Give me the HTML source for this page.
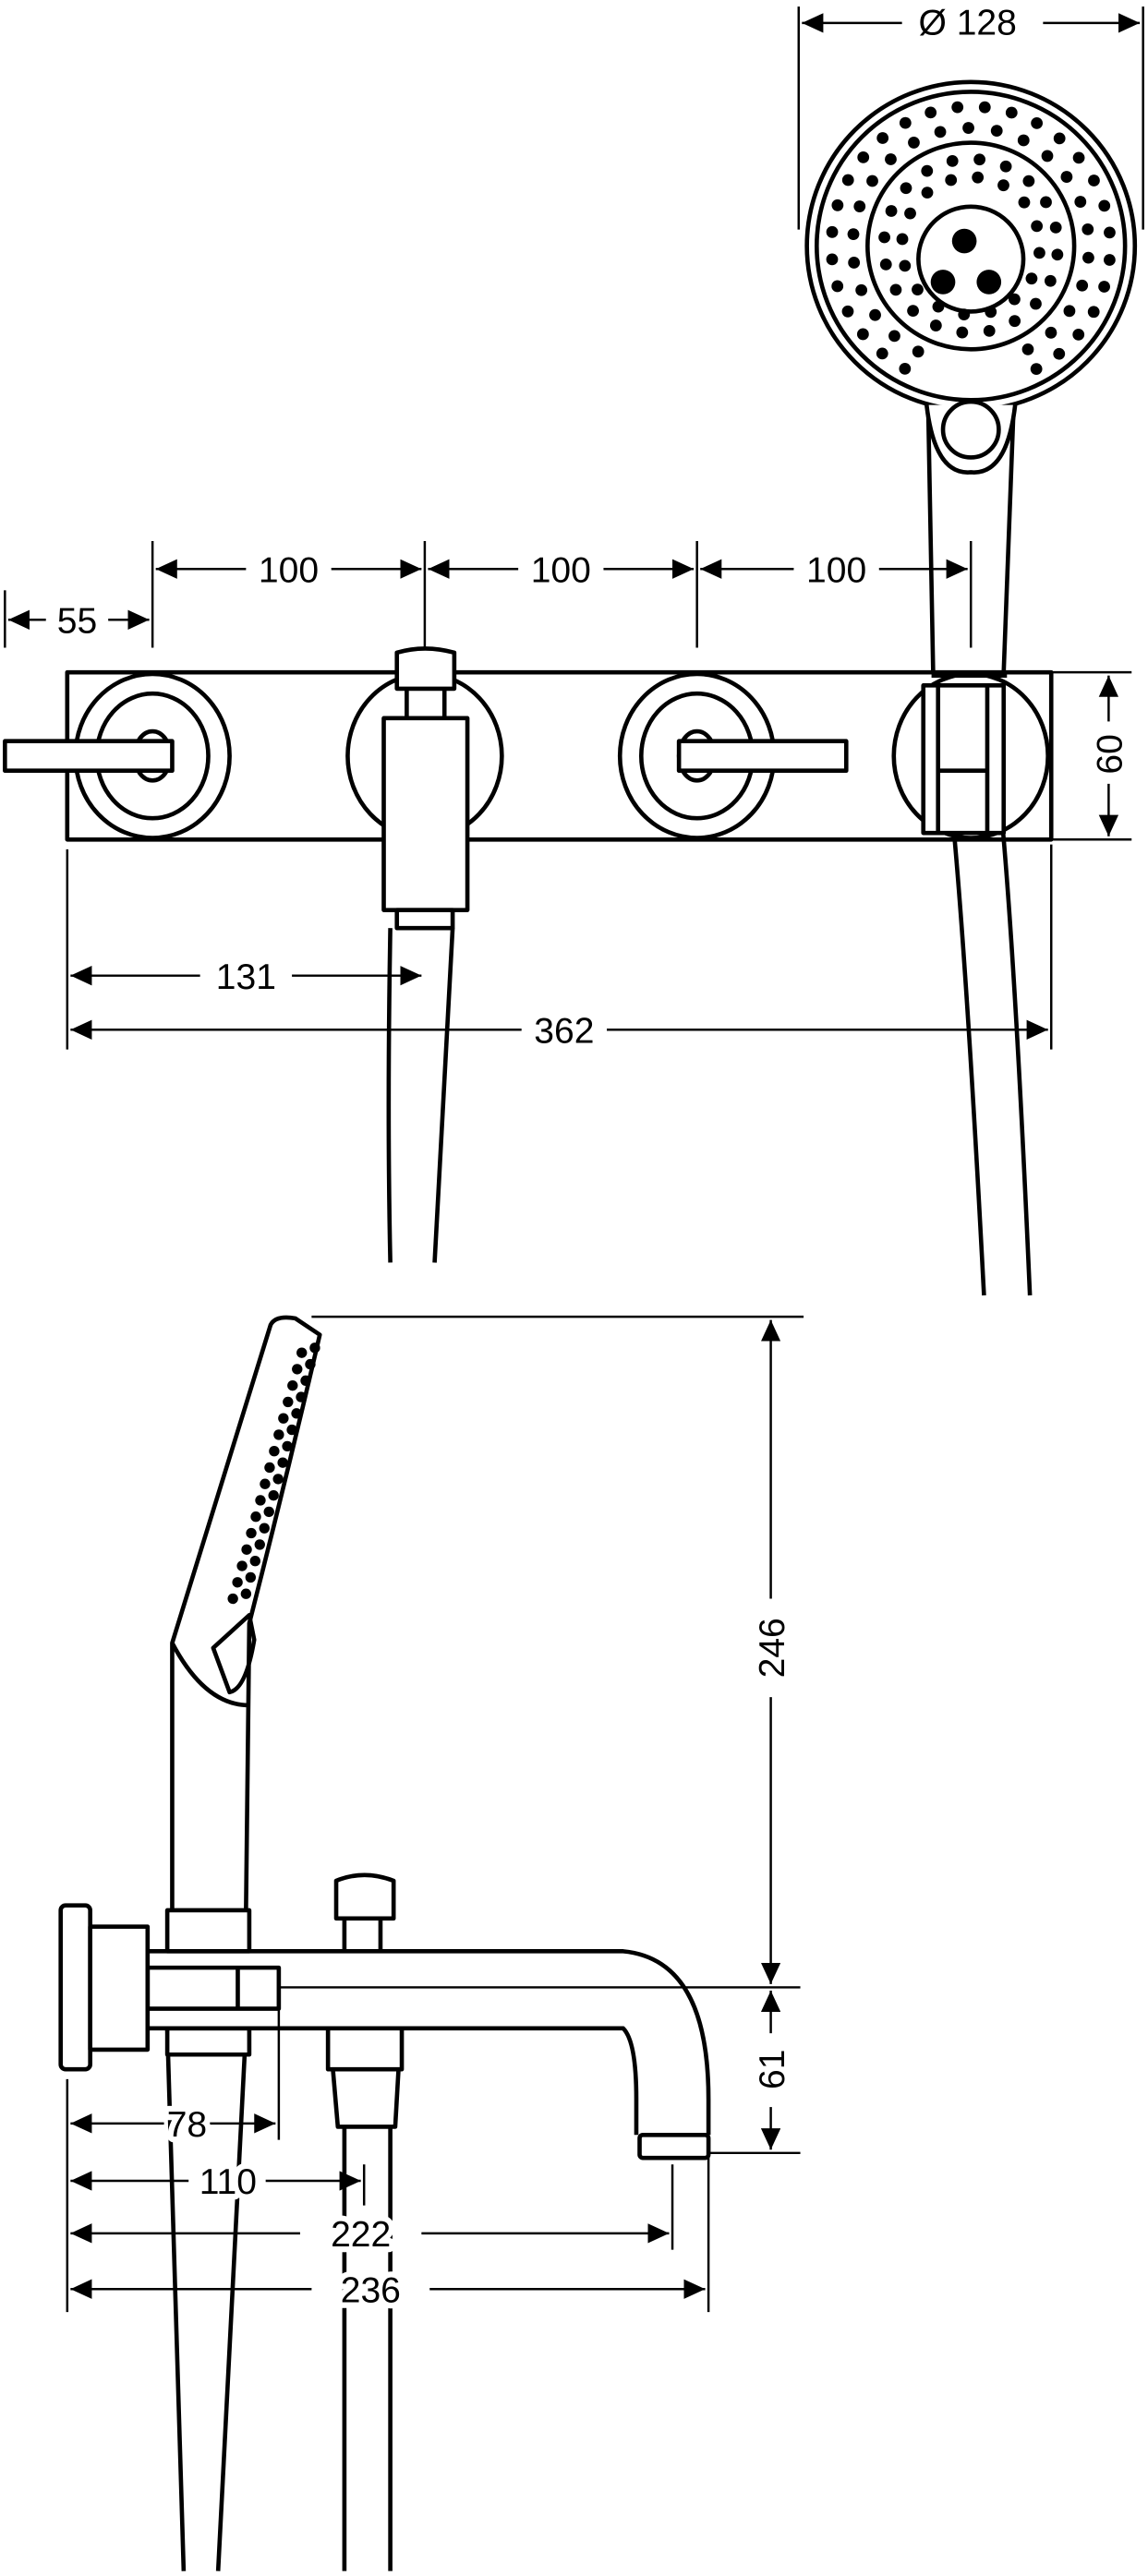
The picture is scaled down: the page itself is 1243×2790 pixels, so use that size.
<!DOCTYPE html>
<html><head><meta charset="utf-8"><style>
html,body{margin:0;padding:0;background:#fff}
svg{display:block}
text{font-family:"Liberation Sans Narrow","Liberation Sans",sans-serif;font-size:22px;fill:#000;stroke:#fff;stroke-width:7px;paint-order:stroke;stroke-linejoin:round}
</style></head><body>
<svg id="s" width="1243" height="2790" viewBox="0 0 700 1571" preserveAspectRatio="none" xmlns="http://www.w3.org/2000/svg">
<defs>
<marker id="a" markerUnits="userSpaceOnUse" markerWidth="14" markerHeight="12" refX="13" refY="6" orient="auto-start-reverse"><path d="M0,0 L13,6 L0,12 Z" fill="#000"/></marker>
</defs>
<g fill="none" stroke="#000" stroke-width="1.4">
<line x1="487" y1="4" x2="487" y2="140"/><line x1="697" y1="4" x2="697" y2="140"/>
<line x1="489" y1="14" x2="550" y2="14" marker-start="url(#a)"/><line x1="636" y1="14" x2="695" y2="14" marker-end="url(#a)"/>
<line x1="93" y1="330" x2="93" y2="395"/><line x1="259" y1="330" x2="259" y2="395"/><line x1="425" y1="330" x2="425" y2="395"/><line x1="592" y1="330" x2="592" y2="395"/>
<line x1="95" y1="347" x2="150" y2="347" marker-start="url(#a)"/><line x1="202" y1="347" x2="257" y2="347" marker-end="url(#a)"/>
<line x1="261" y1="347" x2="316" y2="347" marker-start="url(#a)"/><line x1="368" y1="347" x2="423" y2="347" marker-end="url(#a)"/>
<line x1="427" y1="347" x2="484" y2="347" marker-start="url(#a)"/><line x1="536" y1="347" x2="590" y2="347" marker-end="url(#a)"/>
<line x1="3" y1="360" x2="3" y2="395"/>
<line x1="5" y1="378" x2="28" y2="378" marker-start="url(#a)"/><line x1="66" y1="378" x2="91" y2="378" marker-end="url(#a)"/>
<line x1="641" y1="410" x2="690" y2="410"/><line x1="641" y1="512" x2="690" y2="512"/>
<line x1="676" y1="412" x2="676" y2="440" marker-start="url(#a)"/><line x1="676" y1="478" x2="676" y2="510" marker-end="url(#a)"/>
<line x1="41" y1="518" x2="41" y2="640"/><line x1="641" y1="515" x2="641" y2="640"/>
<line x1="43" y1="595" x2="122" y2="595" marker-start="url(#a)"/><line x1="178" y1="595" x2="257" y2="595" marker-end="url(#a)"/>
<line x1="43" y1="628" x2="318" y2="628" marker-start="url(#a)"/><line x1="370" y1="628" x2="639" y2="628" marker-end="url(#a)"/>
<line x1="190" y1="803" x2="490" y2="803"/>
<line x1="470" y1="805" x2="470" y2="975" marker-start="url(#a)"/><line x1="470" y1="1035" x2="470" y2="1210" marker-end="url(#a)"/>
<line x1="155" y1="1212" x2="488" y2="1212"/><line x1="432" y1="1313" x2="488" y2="1313"/>
<line x1="470" y1="1214" x2="470" y2="1240" marker-start="url(#a)"/><line x1="470" y1="1285" x2="470" y2="1311" marker-end="url(#a)"/>
<line x1="41" y1="1268" x2="41" y2="1410"/><line x1="170" y1="1205" x2="170" y2="1305"/><line x1="222" y1="1320" x2="222" y2="1345"/><line x1="410" y1="1320" x2="410" y2="1372"/><line x1="432" y1="1316" x2="432" y2="1410"/>
<line x1="43" y1="1295" x2="100" y2="1295" marker-start="url(#a)"/><line x1="128" y1="1295" x2="168" y2="1295" marker-end="url(#a)"/>
<line x1="43" y1="1330" x2="115" y2="1330" marker-start="url(#a)"/><line x1="162" y1="1330" x2="220" y2="1330" marker-end="url(#a)"/>
<line x1="43" y1="1362" x2="183" y2="1362" marker-start="url(#a)"/><line x1="257" y1="1362" x2="408" y2="1362" marker-end="url(#a)"/>
<line x1="43" y1="1396" x2="190" y2="1396" marker-start="url(#a)"/><line x1="262" y1="1396" x2="430" y2="1396" marker-end="url(#a)"/>
</g>
<g fill="none" stroke="#000" stroke-width="2.6" stroke-linejoin="round">
<rect x="41" y="410" width="600" height="102" fill="#fff"/>
<ellipse cx="93" cy="461" rx="47" ry="50"/><ellipse cx="93" cy="461" rx="34" ry="38"/><ellipse cx="93" cy="461" rx="11" ry="15"/>
<rect x="3" y="452" width="102" height="18" fill="#fff"/>
<ellipse cx="425" cy="461" rx="47" ry="50"/><ellipse cx="425" cy="461" rx="34" ry="38"/><ellipse cx="425" cy="461" rx="11" ry="15"/>
<rect x="414" y="452" width="102" height="18" fill="#fff"/>
<ellipse cx="259" cy="461" rx="47" ry="50"/>
<path d="M238,566 Q236,680 238,770 M276,566 Q270,680 265,770"/>
<path d="M242,420 V398 Q259,393 277,398 V420 Z M248,420 V438 M271,420 V438" fill="#fff"/>
<rect x="234" y="438" width="51" height="117" fill="#fff"/>
<rect x="242" y="555" width="34" height="11" fill="#fff"/>
<ellipse cx="592" cy="461" rx="47" ry="50"/>
<path d="M566,250 L569,410 M618,250 L612,410"/>
<path d="M572,420 L578,470 Q588,560 600,790 M610,420 L608,470 Q618,560 628,790"/>
<rect x="563" y="418" width="49" height="90" fill="#fff"/>
<path d="M572,418 V508 M602,418 V508 M572,470 H602"/>
<line x1="568" y1="412" x2="614" y2="412"/>
<circle cx="592" cy="150" r="100" fill="#fff"/>
<circle cx="592" cy="150" r="94"/>
<circle cx="592" cy="150" r="63"/>
<circle cx="592" cy="158" r="32"/>
<path d="M565,247 Q570,290 592,288 Q614,290 619,247" fill="#fff"/>
<circle cx="592" cy="262" r="17"/>
<path d="M105,1165 V1002 L165,808 Q168,802 180,804 L195,814 Q175,900 152,990 L150,1165"/>
<path d="M105,1002 Q125,1040 152,1040 M130,1005 L152,985 L155,1000 Q150,1030 140,1032 Z"/>
<path d="M102,1237 L112,1568 M150,1237 L133,1568"/>
<rect x="102" y="1165" width="50" height="25" fill="#fff"/>
<rect x="102" y="1237" width="50" height="16" fill="#fff"/>
<path d="M90,1190 H380 Q432,1195 432,1280 V1302 M90,1237 H380 Q388,1245 388,1280 V1302" fill="none"/>
<rect x="390" y="1302" width="42" height="14" rx="2" fill="#fff"/>
<rect x="90" y="1200" width="80" height="25" fill="#fff"/>
<line x1="145" y1="1200" x2="145" y2="1225"/>
<rect x="37" y="1162" width="18" height="100" rx="3" fill="#fff"/>
<rect x="55" y="1175" width="35" height="75" fill="#fff"/>
<path d="M205,1170 V1147 Q222,1140 240,1147 V1170 Z M210,1170 V1190 M232,1170 V1190" fill="#fff"/>
<rect x="200" y="1237" width="45" height="25" fill="#fff"/>
<path d="M203,1262 L206,1297 H241 L243,1262 M210,1297 V1568 M238,1297 V1568"/>
</g>
<g id="dots" fill="#000"></g>
<g>
<text x="590" y="21" text-anchor="middle">Ø 128</text>
<text x="176" y="355" text-anchor="middle">100</text>
<text x="342" y="355" text-anchor="middle">100</text>
<text x="510" y="355" text-anchor="middle">100</text>
<text x="47" y="386" text-anchor="middle">55</text>
<text x="150" y="603" text-anchor="middle">131</text>
<text x="344" y="636" text-anchor="middle">362</text>
<text transform="translate(684,460) rotate(-90)" text-anchor="middle">60</text>
<text transform="translate(478,1005) rotate(-90)" text-anchor="middle">246</text>
<text transform="translate(478,1262) rotate(-90)" text-anchor="middle">61</text>
<text x="114" y="1303" text-anchor="middle">78</text>
<text x="139" y="1338" text-anchor="middle">110</text>
<text x="220" y="1370" text-anchor="middle">222</text>
<text x="226" y="1404" text-anchor="middle">236</text>
</g>
</svg>
<script>
var g=document.getElementById('dots'),ns='http://www.w3.org/2000/svg';
function d(x,y,r){var c=document.createElementNS(ns,'circle');c.setAttribute('cx',x);c.setAttribute('cy',y);c.setAttribute('r',r);g.appendChild(c);}
var cx=592,cy=150;
[[42,16],[53,20],[72,26],[85,32]].forEach(function(p){for(var i=0;i<p[1];i++){var a=2*Math.PI*i/p[1]+0.1;var ang=(a*180/Math.PI)%360;if(ang>70&&ang<110&&p[0]>60)continue;d(cx+p[0]*Math.cos(a),cy+p[0]*Math.sin(a),3.6);}});
d(588,147,7.5);d(575,172,7.5);d(603,172,7.5);
for(var i=0;i<16;i++){var t=i/15;var x=192-t*42,y=822+t*150;d(x,y,3.2);d(x-8,y+3,3.2);}
</script>
</body></html>
